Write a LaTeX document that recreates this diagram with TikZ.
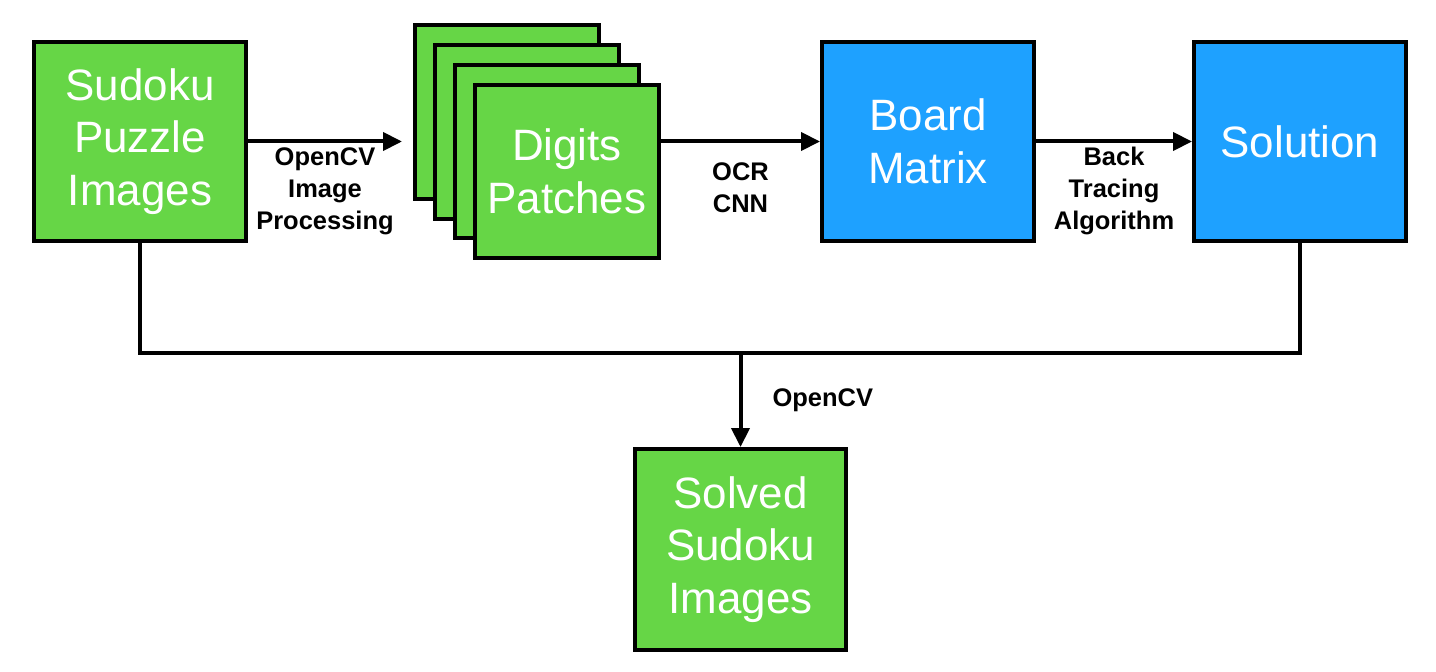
\documentclass[tikz,border=0pt]{standalone}
\usepackage{fontspec}
\setmainfont{Liberation Sans}
\usetikzlibrary{arrows.meta}
\definecolor{boxgreen}{HTML}{66D646}
\definecolor{boxblue}{HTML}{1EA1FF}
\begin{document}
\begin{tikzpicture}[x=0.02cm, y=-0.02cm, line width=0.08cm,
    >={Triangle[length=0.38cm,width=0.36cm]},
    blk/.style={draw, text=white, align=center, inner sep=0pt,
      minimum width=4.24cm, minimum height=3.98cm, font=\fontsize{25}{30}\selectfont},
    patch/.style={blk, fill=boxgreen, minimum width=3.68cm, minimum height=3.48cm},
    lbl/.style={align=center, inner sep=0pt, font=\bfseries\fontsize{14.5}{18.2}\selectfont}]
  \useasboundingbox (0,0) rectangle (1436,672);
  \node[blk, fill=boxgreen] (puzzle) at (140,141.5) {Sudoku\\Puzzle\\Images};
  \node[patch] (p1) at (507,112) {};
  \node[patch] (p2) at (527,132) {};
  \node[patch] (p3) at (547,151.5) {};
  \node[patch] (p4) at (567,171.5) {Digits\\Patches};
  \node[blk, fill=boxblue] (board) at (928,141.5) {Board\\Matrix};
  \node[blk, fill=boxblue] (solution) at (1300,141.5) {Solution};
  \node[blk, fill=boxgreen, minimum width=4.22cm, minimum height=4.02cm] (solved) at (740.5,549.5) {Solved\\Sudoku\\Images};
  \coordinate (stackin) at (402,141.5);
  \coordinate (busline) at (0,353);
  \draw[->] (puzzle.east) -- (stackin) node[lbl, midway, below=0.08cm]{OpenCV\\Image\\Processing};
  \draw[->] (p4.east |- board.west) -- (board.west) node[lbl, midway, below=0.38cm]{OCR\\CNN};
  \draw[->] (board.east) -- (solution.west) node[lbl, midway, below=0.08cm]{Back\\Tracing\\Algorithm};
  \draw (puzzle.south) -- ++(0,110) -| (solution.south);
  \draw[->] (solved.north |- busline) -- (solved.north) node[lbl, midway, right=0.6cm]{OpenCV};
\end{tikzpicture}
\end{document}
